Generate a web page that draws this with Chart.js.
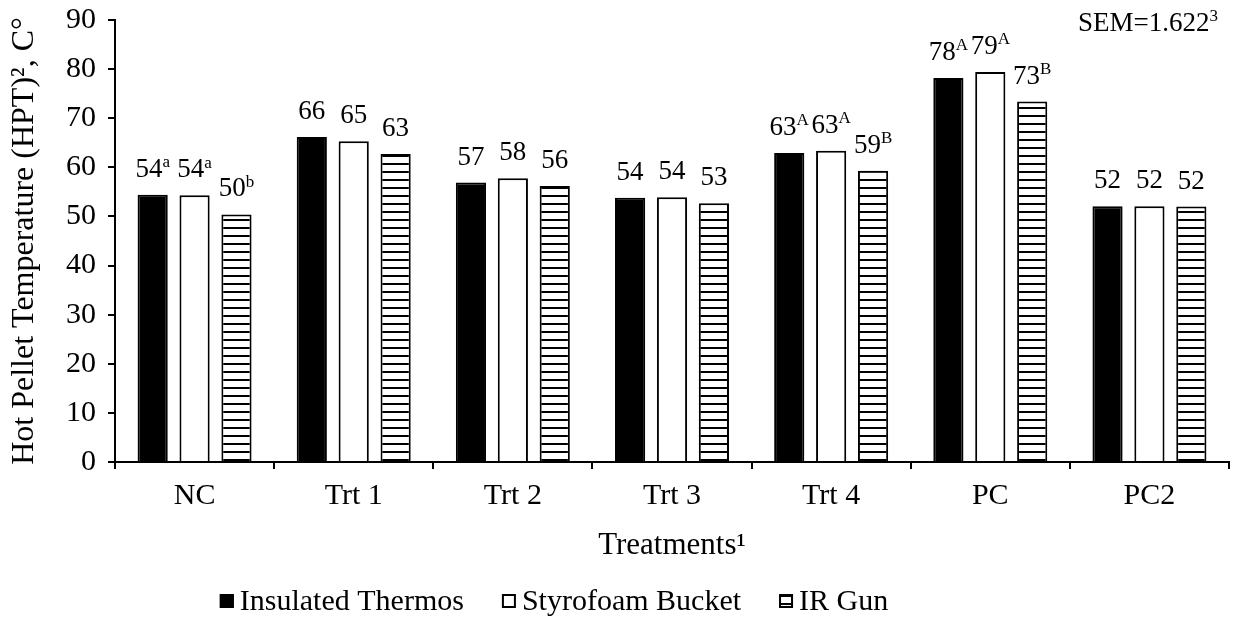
<!DOCTYPE html>
<html lang="en">
<head>
  <meta charset="UTF-8">
  <title>Hot Pellet Temperature</title>
  <script src="https://cdn.jsdelivr.net/npm/chart.js"></script>
  <style>
    html, body { margin: 0; padding: 0; background: #fff; }
    .wrap { width: 1238px; height: 636px; }
  </style>
</head>
<body>
  <div class="wrap"><canvas id="hptChart" width="1238" height="636"></canvas></div>

  <script>
  const treatments = ['NC', 'Trt 1', 'Trt 2', 'Trt 3', 'Trt 4', 'PC', 'PC2'];
  const thermos = [54.4, 66.2, 56.9, 53.8, 62.9, 78.2, 52.1];
  const styrofoam = [54.3, 65.3, 57.8, 53.9, 63.4, 79.4, 52.1];
  const irGun = [50.4, 62.7, 56.2, 52.7, 59.3, 73.4, 52.0];
  const thermosSup = ['a', '', '', '', 'A', 'A', ''];
  const styrofoamSup = ['a', '', '', '', 'A', 'A', ''];
  const irGunSup = ['b', '', '', '', 'B', 'B', ''];
  const yTicks = [0, 10, 20, 30, 40, 50, 60, 70, 80, 90];

  const FONT = '"Liberation Serif", "Times New Roman", serif';
  const AXIS = 30;   // tick labels
  const TITLE = 31;  // axis titles
  const LAB = 27;    // bar labels, SEM note
  const LEG = 30;

  // horizontal line hatch for the IR gun bars
  const makeHatch = () => {
    const c = document.createElement('canvas');
    c.width = 8; c.height = 8;
    const g = c.getContext('2d');
    g.fillStyle = '#fff';
    g.fillRect(0, 0, 8, 8);
    g.fillStyle = '#000';
    g.fillRect(0, 3, 8, 2);
    return g.createPattern(c, 'repeat');
  };
  const hatch = makeHatch();

  // text with an optional superscript, centred on x
  const drawSup = (ctx, x, y, main, sup, size) => {
    const small = Math.round(size * 0.62);
    ctx.font = `${size}px ${FONT}`;
    const w1 = ctx.measureText(main).width;
    ctx.font = `${small}px ${FONT}`;
    const w2 = sup ? ctx.measureText(sup).width : 0;
    const left = x - (w1 + w2) / 2;
    ctx.textAlign = 'left';
    ctx.textBaseline = 'alphabetic';
    ctx.font = `${size}px ${FONT}`;
    ctx.fillText(main, left, y);
    if (sup) {
      ctx.font = `${small}px ${FONT}`;
      ctx.fillText(sup, left + w1, y - size * 0.36);
    }
  };

  const labelPlugin = {
    id: 'barLabels',
    afterDatasetsDraw(chart) {
      const ctx = chart.ctx;
      ctx.save();
      ctx.fillStyle = '#000';
      chart.data.datasets.forEach((ds, di) => {
        const meta = chart.getDatasetMeta(di);
        meta.data.forEach((bar, i) => {
          drawSup(ctx, bar.x, bar.y - 18, String(Math.round(ds.data[i])), ds.sups[i], LAB);
        });
      });
      // SEM note, right aligned near the top right corner
      ctx.font = `${LAB}px ${FONT}`;
      const semW = ctx.measureText('SEM=1.622').width;
      ctx.font = `${Math.round(LAB * 0.62)}px ${FONT}`;
      const supW = ctx.measureText('3').width;
      drawSup(ctx, 1218 - (semW + supW) / 2, 31, 'SEM=1.622', '3', LAB);

      // legend
      const items = chart.data.datasets;
      ctx.font = `${LEG}px ${FONT}`;
      const box = 14, gapText = 6, gapItem = 38;
      const widths = items.map(d => box + gapText + ctx.measureText(d.label).width);
      const total = widths.reduce((a, b) => a + b, 0) + gapItem * (items.length - 1);
      let x = 554 - total / 2;
      const yc = 601;
      items.forEach((d, k) => {
        ctx.fillStyle = d.backgroundColor;
        ctx.fillRect(x, yc - box / 2, box, box);
        ctx.strokeStyle = '#000';
        ctx.lineWidth = 2;
        ctx.strokeRect(x + 1, yc - box / 2 + 1, box - 2, box - 2);
        ctx.fillStyle = '#000';
        ctx.textAlign = 'left';
        ctx.textBaseline = 'middle';
        ctx.fillText(d.label, x + box + gapText, yc + 1);
        x += widths[k] + gapItem;
      });
      ctx.restore();
    }
  };

  const mkSet = (label, data, sups, fill) => ({
    label: label,
    data: data,
    sups: sups,
    backgroundColor: fill,
    borderColor: '#000',
    borderWidth: 2,
    borderSkipped: 'bottom',
    barPercentage: 0.72,
    categoryPercentage: 0.79
  });

  new Chart(document.getElementById('hptChart'), {
    type: 'bar',
    data: {
      labels: treatments,
      datasets: [
        mkSet('Insulated Thermos', thermos, thermosSup, '#000'),
        mkSet('Styrofoam Bucket', styrofoam, styrofoamSup, '#fff'),
        mkSet('IR Gun', irGun, irGunSup, hatch)
      ]
    },
    options: {
      responsive: false,
      animation: false,
      layout: { padding: { top: 20, right: 9, left: 0, bottom: 0 } },
      plugins: {
        legend: { display: false },
        tooltip: { enabled: false }
      },
      scales: {
        x: {
          afterFit: s => { s.height = 174; s.paddingLeft = 0; s.paddingRight = 0; },
          grid: {
            offset: true,
            drawOnChartArea: false,
            color: '#000',
            lineWidth: 2,
            tickLength: 7
          },
          border: { color: '#000', width: 2 },
          ticks: { color: '#000', font: { family: FONT, size: AXIS }, padding: 9 },
          title: {
            display: true,
            text: 'Treatments¹',
            color: '#000',
            font: { family: FONT, size: TITLE },
            padding: { top: 0, bottom: 72 }
          }
        },
        y: {
          min: 0,
          max: 90,
          afterFit: s => { s.width = 115; s.paddingTop = 0; s.paddingBottom = 0; },
          afterBuildTicks: s => { s.ticks = yTicks.map(v => ({ value: v })); },
          grid: {
            drawOnChartArea: false,
            color: '#000',
            lineWidth: 2,
            tickLength: 7
          },
          border: { color: '#000', width: 2 },
          ticks: { color: '#000', font: { family: FONT, size: AXIS }, padding: 12 },
          title: {
            display: true,
            text: 'Hot Pellet Temperature (HPT)², C°',
            color: '#000',
            font: { family: FONT, size: 32 },
            padding: { top: 5, bottom: 0 }
          }
        }
      }
    },
    plugins: [labelPlugin]
  });
  </script>
</body>
</html>
